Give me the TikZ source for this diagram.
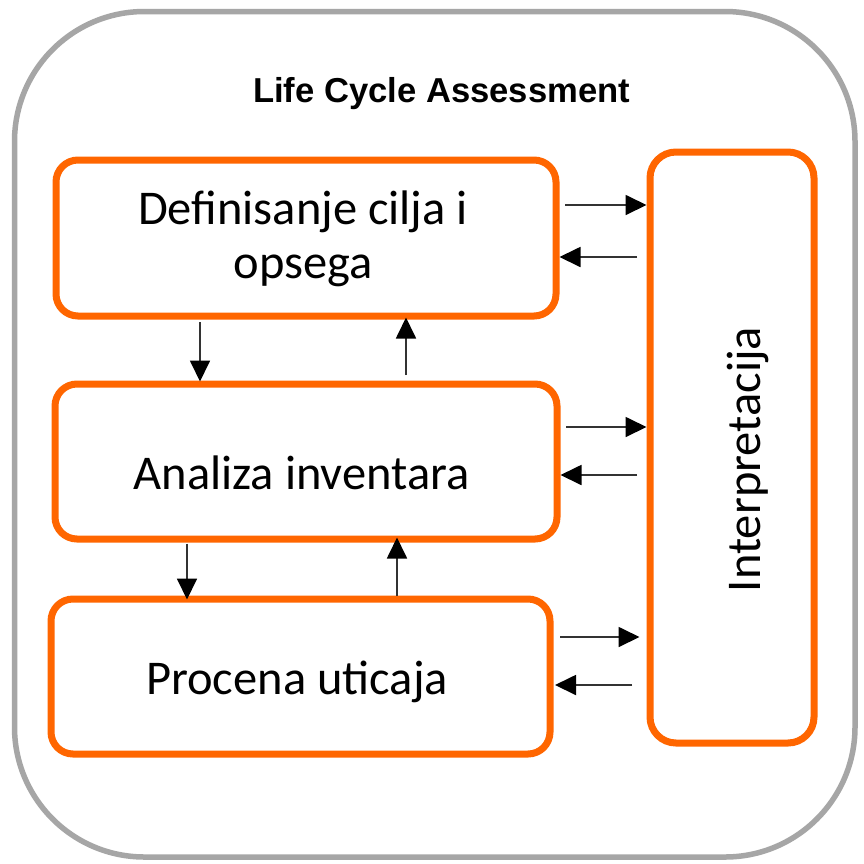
\documentclass[tikz,border=0pt]{standalone}
\usepackage{fontspec}
\usetikzlibrary{arrows.meta,calc}
\newfontfamily\boxfont{Carlito}
\newfontfamily\headfont{Liberation Sans}
\definecolor{lcaorange}{HTML}{FF6600}
\definecolor{lcagray}{HTML}{A6A6A6}
\begin{document}
\begin{tikzpicture}[x=1pt,y=-1pt,
  outerbox/.style={draw=lcagray,line width=5.5pt,rounded corners=130pt,rectangle,inner sep=0pt},
  stagebox/.style={draw=lcaorange,line width=7pt,rounded corners=22pt,rectangle,inner sep=0pt,fill=white},
  boxtext/.style={font=\boxfont\fontsize{48.5}{54}\selectfont,inner sep=0pt,anchor=base},
  arr/.style={draw=black!80,line width=1.8pt,-{Triangle[length=21pt,width=20pt,color=black]}}
]
\useasboundingbox (0,0) rectangle (864,863);
\fill[white] (0,0) rectangle (864,863);

\node[outerbox,minimum width=840.5pt,minimum height=845.5pt] (outer) at (434.75,434.25) {};
\node[font=\headfont\bfseries\fontsize{34.6}{40}\selectfont,inner sep=0pt,anchor=base] (title) at (441.5,102) {Life Cycle Assessment};

\node[stagebox,minimum width=500pt,minimum height=156pt] (b1) at (306,238) {};
\node[stagebox,minimum width=502pt,minimum height=155pt] (b2) at (306,461.5) {};
\node[stagebox,minimum width=499pt,minimum height=155pt] (b3) at (300.5,676.5) {};
\node[stagebox,minimum width=164pt,minimum height=591pt,rounded corners=26pt] (ip) at (732,447.5) {};

\node[boxtext] (t1a) at (303,224) {Definisanje cilja i};
\node[boxtext] (t1b) at (303,278) {opsega};
\node[boxtext] (t2) at (301.5,489) {Analiza inventara};
\node[boxtext] (t3) at (297,694) {Procena uticaja};
\node[boxtext,rotate=90] (t4) at (760,459.5) {Interpretacija};

% horizontal arrows
\coordinate (h1r) at (0,205);
\coordinate (h1l) at (0,257);
\coordinate (h2r) at (0,427);
\coordinate (h2l) at (0,475);
\coordinate (h3r) at (0,637);
\coordinate (h3l) at (0,685);
\draw[arr] ([xshift=5.5pt]h1r -| b1.east) -- (h1r -| ip.west);
\draw[arr] ([xshift=-9.5pt]h1l -| ip.west) -- (h1l -| b1.east);
\draw[arr] ([xshift=5.5pt]h2r -| b2.east) -- (h2r -| ip.west);
\draw[arr] ([xshift=-9.5pt]h2l -| ip.west) -- (h2l -| b2.east);
\draw[arr] ([xshift=6.5pt]h3r -| b3.east) -- ([xshift=-7pt]h3r -| ip.west);
\draw[arr] ([xshift=-14.5pt]h3l -| ip.west) -- ([xshift=1.5pt]h3l -| b3.east);

% vertical arrows
\coordinate (v1d) at (200,0);
\coordinate (v1u) at (406,0);
\coordinate (v2d) at (187,0);
\coordinate (v2u) at (397,0);
\draw[arr] ([yshift=-2.5pt]v1d |- b1.south) -- ([yshift=-1pt]v1d |- b2.north);
\draw[arr] ([yshift=5.5pt]v1u |- b2.north) -- ([yshift=2pt]v1u |- b1.south);
\draw[arr] ([yshift=-1pt]v2d |- b2.south) -- ([yshift=-4pt]v2d |- b3.north);
\draw[arr] ([yshift=-0.5pt]v2u |- b3.north) -- ([yshift=5pt]v2u |- b2.south);
\end{tikzpicture}
\end{document}
